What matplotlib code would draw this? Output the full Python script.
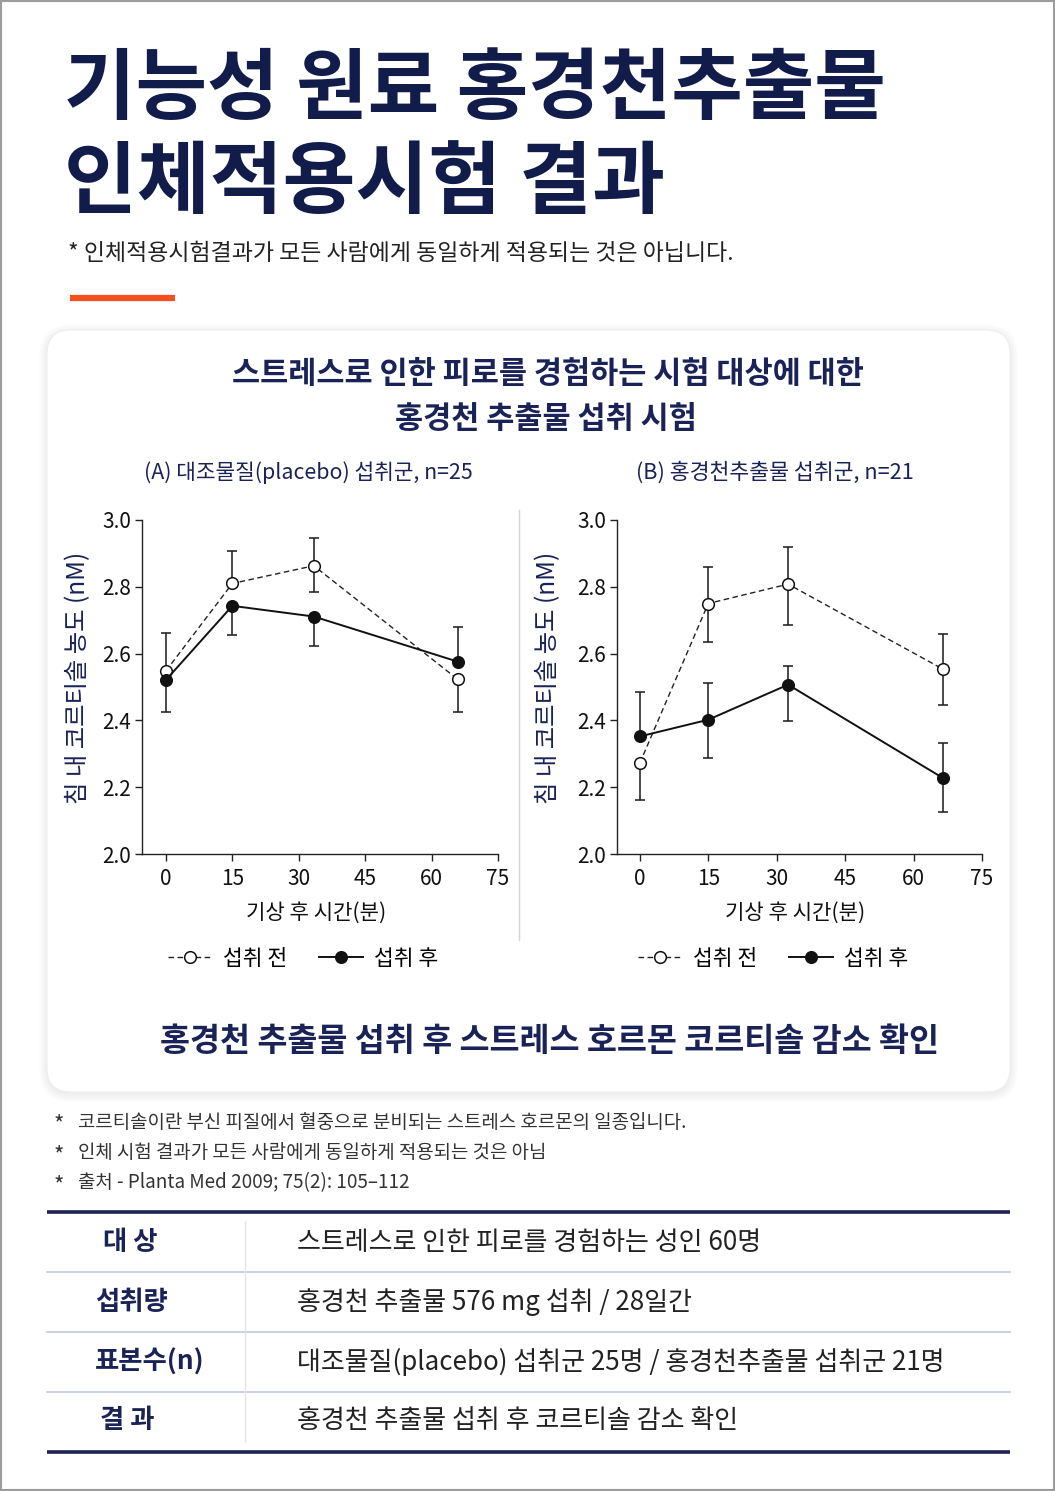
import matplotlib
matplotlib.use('Agg')
import matplotlib.pyplot as plt
from matplotlib.patches import FancyBboxPatch, Rectangle
import numpy as np

plt.rcParams['font.family'] = ['Noto Sans CJK KR', 'DejaVu Sans']

# ---------------- data ----------------
title_lines = ["기능성 원료 홍경천추출물", "인체적용시험 결과"]
subtitle = "* 인체적용시험결과가 모든 사람에게 동일하게 적용되는 것은 아닙니다."
card_title = ["스트레스로 인한 피로를 경험하는 시험 대상에 대한", "홍경천 추출물 섭취 시험"]
panel_titles = ["(A) 대조물질(placebo) 섭취군, n=25", "(B) 홍경천추출물 섭취군, n=21"]
y_label = "침 내 코르티솔 농도 (nM)"
x_label = "기상 후 시간(분)"
series_names = ["섭취 전", "섭취 후"]
conclusion = "홍경천 추출물 섭취 후 스트레스 호르몬 코르티솔 감소 확인"
footnotes = ["코르티솔이란 부신 피질에서 혈중으로 분비되는 스트레스 호르몬의 일종입니다.",
             "인체 시험 결과가 모든 사람에게 동일하게 적용되는 것은 아님",
             "출처 - Planta Med 2009; 75(2): 105–112"]
table_keys = ["대 상", "섭취량", "표본수(n)", "결 과"]
table_vals = ["스트레스로 인한 피로를 경험하는 성인 60명",
              "홍경천 추출물 576 mg 섭취 / 28일간",
              "대조물질(placebo) 섭취군 25명 / 홍경천추출물 섭취군 21명",
              "홍경천 추출물 섭취 후 코르티솔 감소 확인"]

time_a = [0, 15, 33.4, 65.9]
before_a = [2.548, 2.810, 2.863, 2.523]
before_a_lo = [0, 0, 0.080, 0.099]
before_a_hi = [0.113, 0.098, 0.084, 0]
after_a = [2.521, 2.743, 2.711, 2.576]
after_a_lo = [0.097, 0.086, 0.087, 0]
after_a_hi = [0, 0, 0, 0.105]

time_b = [0, 15, 32.5, 66.5]
before_b = [2.272, 2.750, 2.808, 2.553]
before_b_lo = [0.109, 0.116, 0.121, 0.108]
before_b_hi = [0, 0.110, 0.110, 0.107]
after_b = [2.352, 2.402, 2.507, 2.227]
after_b_lo = [0, 0.116, 0.108, 0.102]
after_b_hi = [0.133, 0.110, 0.057, 0.106]

x_ticks = [0, 15, 30, 45, 60, 75]
y_ticks = [2.0, 2.2, 2.4, 2.6, 2.8, 3.0]

# ---------------- style ----------------
NAVY = '#111c4a'
NAVY2 = '#1a2357'
W, H = 1055, 1491
fig = plt.figure(figsize=(W / 100, H / 100), dpi=100)
fig.patch.set_facecolor('white')

bg = fig.add_axes([0, 0, 1, 1], zorder=0)
bg.set_xlim(0, W)
bg.set_ylim(H, 0)
bg.axis('off')

# page border
bg.add_patch(Rectangle((1, 1), W - 2, H - 2, fill=False, ec='#9c9c9c', lw=1.5))

# title
bg.text(64, 90, title_lines[0], fontsize=56, fontweight='heavy', color=NAVY, va='center', ha='left')
bg.text(64, 184, title_lines[1], fontsize=57, fontweight='heavy', color=NAVY, va='center', ha='left')
bg.text(68, 254, subtitle, fontsize=16.5, color='#222222', va='center', ha='left')
bg.plot([70, 175], [298, 298], color='#f2501f', lw=4.5, solid_capstyle='butt')

# card with soft shadow
cx, cy, cw, ch, r = 47, 330, 963, 762, 24
for i in range(8, 0, -1):
    bg.add_patch(FancyBboxPatch((cx - i, cy - i + 2), cw + 2 * i, ch + 2 * i,
                                boxstyle=f"round,pad=0,rounding_size={r + i}",
                                fc='#000000', ec='none', alpha=0.006))
bg.add_patch(FancyBboxPatch((cx, cy), cw, ch, boxstyle=f"round,pad=0,rounding_size={r}",
                            fc='white', ec='#eeeeee', lw=0.8))

bg.text(548, 374, card_title[0], fontsize=22, fontweight='bold', color=NAVY2, ha='center', va='center')
bg.text(546, 419, card_title[1], fontsize=22, fontweight='bold', color=NAVY2, ha='center', va='center')
bg.text(308, 473, panel_titles[0], fontsize=15.4, color=NAVY2, ha='center', va='center')
bg.text(775, 473, panel_titles[1], fontsize=15.6, color=NAVY2, ha='center', va='center')

# divider between panels
bg.plot([519, 519], [510, 940], color='#d6d6d6', lw=1)

# y labels and x labels
for x in (78, 548):
    bg.text(x, 678, y_label, fontsize=17.5, fontweight='medium', color=NAVY2, rotation=90,
            ha='center', va='center')
bg.text(316, 913, x_label, fontsize=15.2, color='#111111', ha='center', va='center')
bg.text(795, 913, x_label, fontsize=15.2, color='#111111', ha='center', va='center')

# conclusion
bg.text(550, 1041, conclusion, fontsize=23.5, fontweight='bold', color=NAVY2, ha='center', va='center')

# footnotes
for i, t in enumerate(footnotes):
    yy = 1122 + i * 30.5
    bg.text(54, yy + 3, "*", fontsize=16, color='#333333', ha='left', va='center')
    bg.text(78, yy, t, fontsize=13.6, color='#333333', ha='left', va='center')

# table
bg.plot([47, 1010], [1212, 1212], color='#1c2552', lw=2.6, solid_capstyle='butt')
bg.plot([47, 1010], [1452, 1452], color='#1c2552', lw=2.6, solid_capstyle='butt')
for yy in (1272, 1332, 1392):
    bg.plot([47, 1010], [yy, yy], color='#c5cee0', lw=1.3)
bg.plot([245, 245], [1222, 1442], color='#e0e4ec', lw=1)
row_y = [1243, 1302, 1362, 1420]
key_x = [103, 95, 95, 100]
for k, v, yy, kx in zip(table_keys, table_vals, row_y, key_x):
    bg.text(kx, yy, k, fontsize=19, fontweight='bold', color=NAVY2, ha='left', va='center')
    bg.text(297, yy, v, fontsize=18.7, color='#222222', ha='left', va='center')


# ---------------- charts ----------------
def panel(rect, xmin, t, b, blo, bhi, a, alo, ahi, leg_x):
    ax = fig.add_axes(rect, zorder=2)
    ax.set_facecolor('none')
    ax.errorbar(t, b, yerr=[blo, bhi], fmt='none', ecolor='#222222', elinewidth=1.15,
                capsize=3.3, capthick=1.15, zorder=2)
    ax.errorbar(t, a, yerr=[alo, ahi], fmt='none', ecolor='#222222', elinewidth=1.15,
                capsize=3.3, capthick=1.15, zorder=2)
    hb, = ax.plot(t, b, linestyle=(0, (4, 2.5)), color='#222222', lw=1.0, marker='o',
                  ms=8.4, mfc='white', mec='#111111', mew=1.1, zorder=3)
    ha, = ax.plot(t, a, linestyle='-', color='#111111', lw=1.4, marker='o',
                  ms=8.4, mfc='#111111', mec='#111111', zorder=4)
    ax.set_xlim(xmin, 75)
    ax.set_ylim(2.0, 3.0)
    ax.set_xticks(x_ticks)
    ax.set_yticks(y_ticks)
    ax.set_yticklabels([f"{v:.1f}" for v in y_ticks])
    for s in ('top', 'right'):
        ax.spines[s].set_visible(False)
    for s in ('left', 'bottom'):
        ax.spines[s].set_linewidth(1.0)
        ax.spines[s].set_color('#222222')
    ax.tick_params(direction='out', length=5, width=1.0, color='#222222',
                   labelsize=15, labelcolor='#111111', pad=3)
    ax.tick_params(axis='x', pad=5)
    ax.legend([hb, ha], series_names, loc='center left', bbox_to_anchor=(leg_x, 1 - 959 / H),
              bbox_transform=fig.transFigure, ncol=2, frameon=False, fontsize=15.5,
              handlelength=2.05, handletextpad=0.5, columnspacing=1.5,
              borderpad=0, borderaxespad=0, numpoints=1)
    return ax


bottom = 1 - 854 / H
height = 334 / H
panel([142 / W, bottom, 356 / W, height], -5.4, time_a, before_a, before_a_lo, before_a_hi,
      after_a, after_a_lo, after_a_hi, 168 / W)
panel([617 / W, bottom, 365 / W, height], -5.0, time_b, before_b, before_b_lo, before_b_hi,
      after_b, after_b_lo, after_b_hi, 638 / W)

fig.savefig('out.png', dpi=100, facecolor='white')
